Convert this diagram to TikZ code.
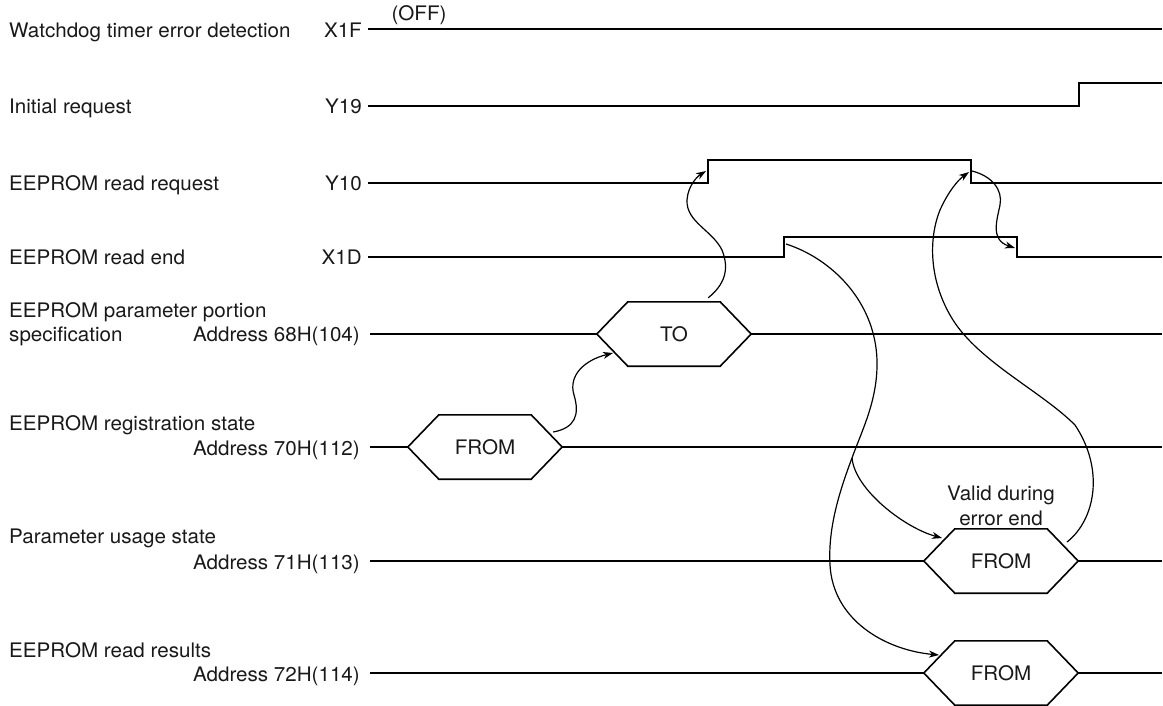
\documentclass[tikz,border=0pt]{standalone}
\usepackage{fontspec}
\setmainfont{TeX Gyre Heros}[FakeStretch=1.03]
\usetikzlibrary{arrows.meta}
\newcommand{\hexoutline}[1]{\draw[hexline] (#1.north west) -- (#1.north east) -- ([xshift=31pt]#1.east) -- (#1.south east) -- (#1.south west) -- ([xshift=-31pt]#1.west) -- cycle;}
\begin{document}
\begin{tikzpicture}[x=1pt,y=-1pt,
  every node/.style={font=\fontsize{20}{23}\selectfont, inner sep=0pt, text=black!90},
  lbl/.style={anchor=base west},
  sig/.style={anchor=base east},
  wave/.style={line width=1.8pt, line join=miter},
  hexline/.style={line width=1.6pt, line join=miter},
  hexbox/.style={minimum width=92pt, minimum height=64pt, anchor=center},
  cause/.style={line width=1.2pt, -{Stealth[length=10pt,width=7pt,inset=3pt]}},
  curveline/.style={line width=1.2pt}]
\useasboundingbox (0,0) rectangle (1163,705);

% ---------- left labels ----------
\node[lbl] (lX1F) at (9,37) {Watchdog timer error detection};
\node[sig] (sX1F) at (362,37) {X1F};
\node[lbl] (lY19) at (9,113) {Initial request};
\node[sig] (sY19) at (362,113) {Y19};
\node[lbl] (lY10) at (9,190) {EEPROM read request};
\node[sig] (sY10) at (362,190) {Y10};
\node[lbl] (lX1D) at (9,264) {EEPROM read end};
\node[sig] (sX1D) at (362,264) {X1D};
\node[lbl] (lA68a) at (9,317) {EEPROM parameter portion};
\node[lbl] (lA68b) at (9,341) {specification};
\node[sig] (sA68) at (360,341) {Address 68H(104)};
\node[lbl] (lA70) at (9,430) {EEPROM registration state};
\node[sig] (sA70) at (360,455) {Address 70H(112)};
\node[lbl] (lA71) at (9,543) {Parameter usage state};
\node[sig] (sA71) at (360,569) {Address 71H(113)};
\node[lbl] (lA72) at (9,657) {EEPROM read results};
\node[sig] (sA72) at (360,681) {Address 72H(114)};

\node[anchor=base] (off) at (419,20) {(OFF)};

% ---------- hexagon boxes ----------
\node[hexbox] (to) at (674,334) {TO};
\node[hexbox] (rdreg) at (485,447) {FROM};
\node[hexbox] (rdusage) at (1001,561) {FROM};
\node[hexbox] (rdres) at (1001,673) {FROM};
\hexoutline{to}
\hexoutline{rdreg}
\hexoutline{rdusage}
\hexoutline{rdres}

\node[anchor=base] (valid1) at (1001,500) {Valid during};
\node[anchor=base] (valid2) at (1001,525) {error end};

% ---------- waveforms ----------
\draw[wave] (368,29) -- (1162,29);
\draw[wave] (368,106) -- (1079,106) -- (1079,83) -- (1162,83);
\draw[wave] (368,183) -- (708,183) -- (708,160) -- (971,160) -- (971,183) -- (1162,183);
\draw[wave] (368,257) -- (784,257) -- (784,237) -- (1017,237) -- (1017,257) -- (1162,257);
\draw[wave] (370,334) -- ([xshift=-31pt]to.west);
\draw[wave] ([xshift=31pt]to.east) -- (1162,334);
\draw[wave] (370,447) -- ([xshift=-31pt]rdreg.west);
\draw[wave] ([xshift=31pt]rdreg.east) -- (1162,447);
\draw[wave] (370,561) -- ([xshift=-31pt]rdusage.west);
\draw[wave] ([xshift=31pt]rdusage.east) -- (1162,561);
\draw[wave] (370,673) -- ([xshift=-31pt]rdres.west);
\draw[wave] ([xshift=31pt]rdres.east) -- (1162,673);

% ---------- connection points ----------
\coordinate (y10rise) at (706,171);
\coordinate (y10fall) at (972,171);
\coordinate (x1drise) at (786,244);
\coordinate (x1dfall) at (1015,248);
\coordinate (branch) at (852,458);

% ---------- cause arrows ----------
\draw[cause] ([xshift=-12pt,yshift=4pt]to.north east) .. controls (724,285) and (730,270) .. (722,250)
   .. controls (712,230) and (686,222) .. (687,200) .. controls (688,185) and (698,176) .. (y10rise);
\draw[cause] ([xshift=22pt,yshift=15pt]rdreg.east) .. controls (575,428) and (580,415) .. (574,395)
   .. controls (568,375) and (585,360) .. (613,353);
\draw[curveline] (x1drise) .. controls (830,258) and (875,300) .. (877,360)
   .. controls (878,400) and (862,430) .. (branch);
\draw[cause] (branch) .. controls (855,490) and (905,528) .. (942,538);
\draw[cause] (branch) .. controls (838,495) and (828,530) .. (830,565)
   .. controls (833,620) and (885,650) .. (939,655);
\draw[cause] (1067,542) .. controls (1095,520) and (1105,470) .. (1075,425)
   .. controls (1040,390) and (975,360) .. (950,315)
   .. controls (930,280) and (928,240) .. (940,210)
   .. controls (948,192) and (958,180) .. (969,172);
\draw[cause] (y10fall) .. controls (992,176) and (1003,190) .. (1000,205)
   .. controls (997,220) and (990,240) .. (x1dfall);
\end{tikzpicture}
\end{document}
